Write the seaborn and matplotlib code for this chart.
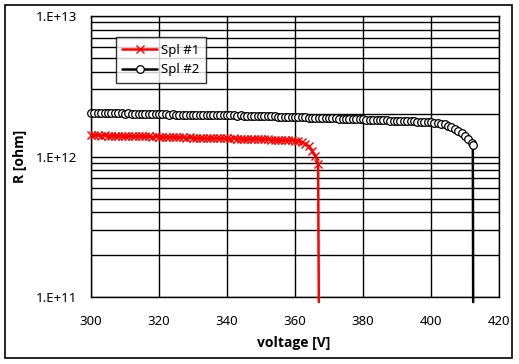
import matplotlib
matplotlib.use("Agg")
import math
import matplotlib.pyplot as plt
import matplotlib.patches as mpatches
from matplotlib.ticker import LogLocator, FixedLocator, FuncFormatter
import seaborn as sns
import pandas as pd

# ---------------- data ----------------
spl1_voltage = [300, 301, 302, 303, 304, 305, 306, 307, 308, 309,
                310, 311, 312, 313, 314, 315, 316, 317, 318, 319,
                320, 321, 322, 323, 324, 325, 326, 327, 328, 329,
                330, 331, 332, 333, 334, 335, 336, 337, 338, 339,
                340, 341, 342, 343, 344, 345, 346, 347, 348, 349,
                350, 351, 352, 353, 354, 355, 356, 357, 358, 359,
                360, 361, 362, 363, 364, 365, 366, 366.8, 367.0]
spl1_r = [1.42, 1.42, 1.42, 1.41, 1.42, 1.41, 1.41, 1.41, 1.40, 1.41,
          1.40, 1.40, 1.40, 1.39, 1.40, 1.39, 1.39, 1.39, 1.38, 1.39,
          1.38, 1.38, 1.38, 1.37, 1.38, 1.37, 1.37, 1.37, 1.36, 1.37,
          1.36, 1.36, 1.36, 1.36, 1.35, 1.36, 1.35, 1.35, 1.35, 1.35,
          1.35, 1.34, 1.35, 1.34, 1.34, 1.34, 1.34, 1.33, 1.34, 1.33,
          1.33, 1.33, 1.33, 1.32, 1.32, 1.32, 1.31, 1.31, 1.30, 1.30,
          1.29, 1.28, 1.26, 1.23, 1.18, 1.10, 1.01, 0.89, 0.092]  # x 1e12 ohm

spl2_voltage = [300, 301, 302, 303, 304, 305, 306, 307, 308, 309,
                310, 311, 312, 313, 314, 315, 316, 317, 318, 319,
                320, 321, 322, 323, 324, 325, 326, 327, 328, 329,
                330, 331, 332, 333, 334, 335, 336, 337, 338, 339,
                340, 341, 342, 343, 344, 345, 346, 347, 348, 349,
                350, 351, 352, 353, 354, 355, 356, 357, 358, 359,
                360, 361, 362, 363, 364, 365, 366, 367, 368, 369,
                370, 371, 372, 373, 374, 375, 376, 377, 378, 379,
                380, 381, 382, 383, 384, 385, 386, 387, 388, 389,
                390, 391, 392, 393, 394, 395, 396, 397, 398, 399,
                400, 401, 402, 403, 404, 405, 406, 407, 408, 409,
                410, 411, 412, 412.3, 412.4]
spl2_r = [2.04, 2.05, 2.04, 2.05, 2.04, 2.04, 2.03, 2.04, 2.03, 2.03,
          2.02, 2.03, 2.02, 2.02, 2.01, 2.02, 2.01, 2.01, 2.00, 2.01,
          2.00, 2.00, 2.00, 1.99, 2.00, 1.99, 1.99, 1.99, 1.98, 1.99,
          1.98, 1.98, 1.98, 1.97, 1.98, 1.97, 1.97, 1.97, 1.96, 1.97,
          1.96, 1.96, 1.96, 1.95, 1.96, 1.95, 1.95, 1.95, 1.94, 1.95,
          1.94, 1.94, 1.93, 1.93, 1.93, 1.92, 1.92, 1.92, 1.91, 1.91,
          1.91, 1.90, 1.90, 1.90, 1.89, 1.89, 1.89, 1.88, 1.88, 1.88,
          1.87, 1.87, 1.87, 1.86, 1.86, 1.86, 1.85, 1.85, 1.84, 1.84,
          1.84, 1.83, 1.83, 1.82, 1.82, 1.82, 1.81, 1.81, 1.80, 1.80,
          1.80, 1.79, 1.79, 1.78, 1.78, 1.78, 1.77, 1.77, 1.76, 1.76,
          1.75, 1.74, 1.73, 1.71, 1.69, 1.66, 1.62, 1.57, 1.53, 1.47,
          1.41, 1.33, 1.24, 1.20, 0.092]  # x 1e12 ohm

series_names = ["Spl #1", "Spl #2"]
x_ticks = [300, 320, 340, 360, 380, 400, 420]
y_ticks = [1e11, 1e12, 1e13]

# ---------------- figure ----------------
sns.set_theme(style="white")
plt.rcParams["font.family"] = ["Noto Sans", "DejaVu Sans"]

fig = plt.figure(figsize=(5.19, 3.64), dpi=100)
ax = fig.add_axes([91 / 519, (364 - 297) / 364, 408 / 519, 281 / 364])

df1 = pd.DataFrame({"voltage": spl1_voltage, "R": [v * 1e12 for v in spl1_r]})
df2 = pd.DataFrame({"voltage": spl2_voltage, "R": [v * 1e12 for v in spl2_r]})

sns.lineplot(data=df1, x="voltage", y="R", ax=ax, color="#ff0000", lw=1.8,
             marker="x", markersize=6, markeredgewidth=1.0, markeredgecolor="#ff0000",
             markevery=slice(0, len(spl1_r) - 1), sort=False, estimator=None,
             label=series_names[0], clip_on=False, zorder=4)
sns.lineplot(data=df2, x="voltage", y="R", ax=ax, color="black", lw=1.8,
             marker="o", markersize=5.5, markerfacecolor="white", markeredgecolor="black",
             markeredgewidth=0.9,
             markevery=slice(0, len(spl2_r) - 1), sort=False, estimator=None,
             label=series_names[1], clip_on=False, zorder=3)

ax.set_yscale("log")
ax.set_xlim(300, 420)
ax.set_ylim(1e11, 1e13)
ax.xaxis.set_major_locator(FixedLocator(x_ticks))
ax.yaxis.set_major_locator(FixedLocator(y_ticks))
ax.yaxis.set_minor_locator(LogLocator(base=10, subs=range(2, 10)))
ax.yaxis.set_major_formatter(FuncFormatter(lambda v, p: "1.E+%d" % round(math.log10(v))))
ax.yaxis.set_minor_formatter(FuncFormatter(lambda v, p: ""))

ax.grid(True, which="major", axis="both", color="black", lw=1.0)
ax.grid(True, which="minor", axis="y", color="black", lw=1.0)
ax.set_axisbelow(True)
for s in ax.spines.values():
    s.set_color("black")
    s.set_linewidth(1.0)

ax.tick_params(axis="both", which="both", length=0, labelsize=9.5, colors="black")
ax.tick_params(axis="x", pad=13)
ax.tick_params(axis="y", pad=10)

ax.set_xlabel("voltage [V]", fontsize=10, fontweight="bold",
              family=["Open Sans", "DejaVu Sans"], color="black")
ax.set_ylabel("R [ohm]", fontsize=10, fontweight="bold",
              family=["Open Sans", "DejaVu Sans"], color="black")
ax.xaxis.set_label_coords(0.497, (297 - 343) / 281)
ax.xaxis.label.set_va("center")
ax.yaxis.set_label_coords((20 - 91) / 408, 0.5)
ax.yaxis.label.set_va("center")

leg = ax.legend(loc="upper left", bbox_to_anchor=(0.061, 0.925), frameon=True,
                fancybox=False, fontsize=9.5, handlelength=2.6, handletextpad=0.3,
                borderpad=0.5, labelspacing=0.5, borderaxespad=0)
leg.get_frame().set_edgecolor("black")
leg.get_frame().set_linewidth(1.0)
for t in leg.get_texts():
    t.set_color("black")

fig.patches.append(mpatches.Rectangle((5 / 519, (364 - 358) / 364), 507 / 519, 353 / 364,
                                      transform=fig.transFigure, fill=False,
                                      edgecolor="black", lw=1.2))

fig.savefig("out.png", dpi=100)
